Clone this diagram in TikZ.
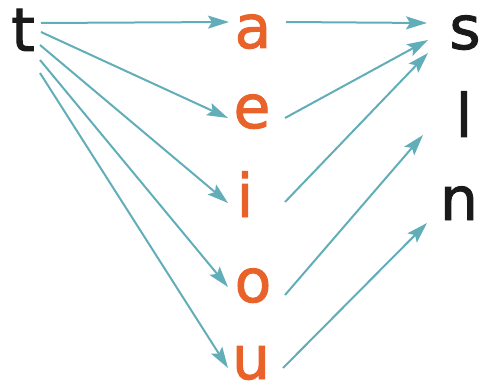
\documentclass[tikz,border=0pt]{standalone}
\usepackage{fontspec}
\setmainfont{DejaVu Sans}
\newfontfamily\letterfont[FakeBold=1.6]{DejaVu Sans}
\usetikzlibrary{arrows.meta}
\definecolor{vow}{HTML}{E8622A}
\definecolor{con}{HTML}{1A1A1A}
\definecolor{arr}{HTML}{62AEB8}
\begin{document}
\begin{tikzpicture}[x=1pt,y=-1pt,
  letter/.style={inner sep=0pt,anchor=base,font=\fontsize{60}{60}\letterfont},
  vowel/.style={letter,text=vow},
  cons/.style={letter,text=con},
  link/.style={draw=arr,line width=2pt,-{Stealth[length=21pt,width=13pt,inset=4pt]}}]
\useasboundingbox (0,0) rectangle (482,385);
\node[cons] (t) at (23,51) {t};
\node[vowel] (a) at (253,48) {a};
\node[vowel] (e) at (252,128) {e};
\node[vowel] (i) at (245,217) {i};
\node[vowel] (o) at (253,302) {o};
\node[vowel] (u) at (251,379) {u};
\node[cons] (s) at (465,49) {s};
\node[cons] (l) at (464,137) {l};
\node[cons] (n) at (459,220) {n};
\draw[link] ([shift={(18,-28)}]t.base) -- ([shift={(-24,-26)}]a.base);
\draw[link] ([shift={(18,-19)}]t.base) -- ([shift={(-24,-10)}]e.base);
\draw[link] ([shift={(17,-6)}]t.base) -- ([shift={(-17,-14)}]i.base);
\draw[link] ([shift={(17,9)}]t.base) -- ([shift={(-25,-15)}]o.base);
\draw[link] ([shift={(17,22)}]t.base) -- ([shift={(-23,-11)}]u.base);
\draw[link] ([shift={(33,-26)}]a.base) -- ([shift={(-38,-26)}]s.base);
\draw[link] ([shift={(33,-10)}]e.base) -- ([shift={(-37,-9)}]s.base);
\draw[link] ([shift={(40,-15)}]i.base) -- ([shift={(-37,4)}]s.base);
\draw[link] ([shift={(32,-7)}]o.base) -- ([shift={(-41,-2)}]l.base);
\draw[link] ([shift={(32,-11)}]u.base) -- ([shift={(-32,3)}]n.base);
\end{tikzpicture}
\end{document}
